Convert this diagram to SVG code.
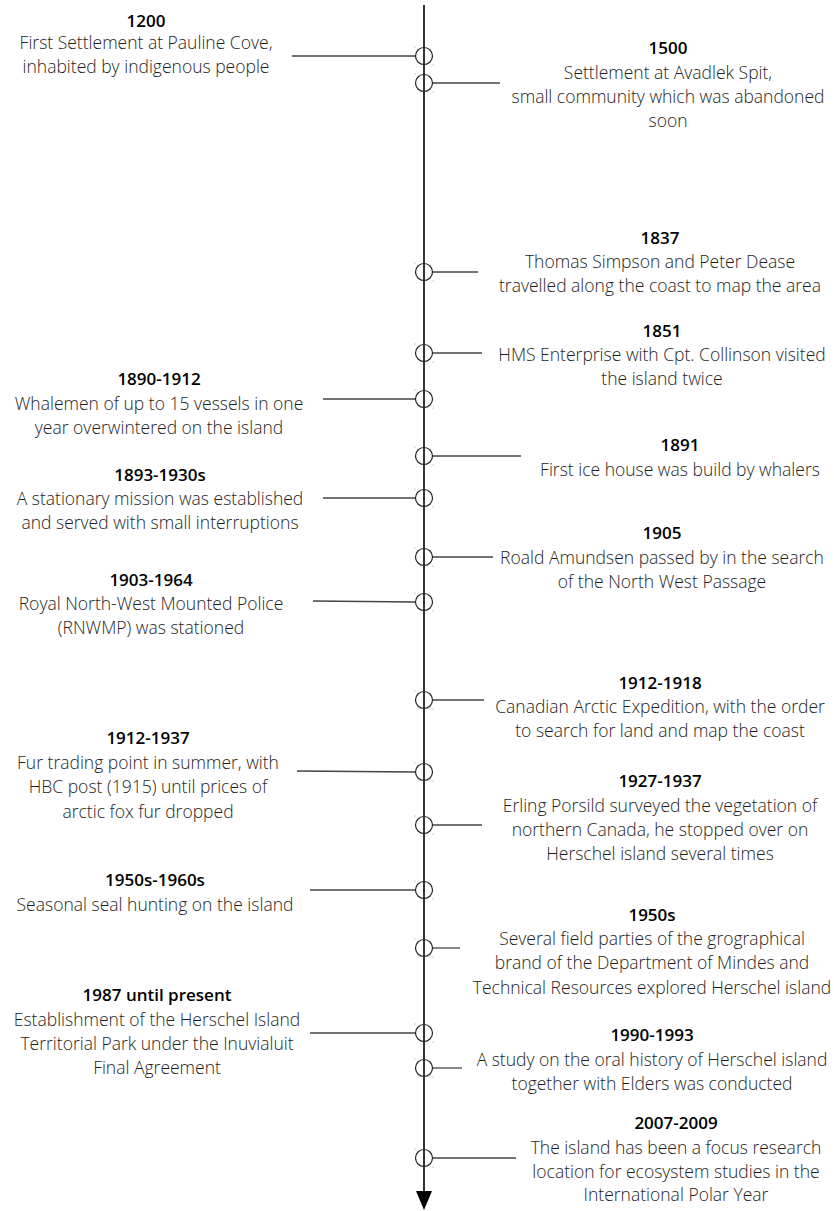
<svg xmlns="http://www.w3.org/2000/svg" width="834" height="1211" viewBox="0 0 834 1211">
  <style>
    text { font-family: "Open Sans", "Noto Sans", "Liberation Sans", sans-serif; text-anchor: middle; }
    .t { font-size: 17px; font-weight: 600; fill: #000; }
    .b { font-size: 17.5px; font-weight: 300; fill: #1e1e1e; }
    .lnk { stroke: #444; stroke-width: 1.3; fill: none; }
    .axis { stroke: #000; stroke-width: 1.6; fill: none; }
  </style>
  <defs>
    <!-- hollow timeline marker with its two tiny corner ticks -->
    <g id="knob">
      <circle cx="0" cy="0" r="8.5" fill="none" stroke="#222" stroke-width="1.2"/>
      <rect x="-9.5" y="-9.5" width="1" height="1" fill="#999"/>
      <rect x="8.5" y="8.5" width="1" height="1" fill="#999"/>
    </g>
  </defs>

  <!-- connectors: timeline axis and leader lines -->
  <g id="connectors">
    <line class="axis" x1="424" y1="5" x2="424" y2="1193"/>
    <polygon points="416,1191 432,1191 424,1210" fill="#000"/>
    <line class="lnk" x1="292" y1="56" x2="415" y2="56"/>
    <line class="lnk" x1="433" y1="83" x2="500" y2="83"/>
    <line class="lnk" x1="433" y1="272" x2="478" y2="272"/>
    <line class="lnk" x1="433" y1="353" x2="482" y2="353"/>
    <line class="lnk" x1="323" y1="399" x2="415" y2="399"/>
    <line class="lnk" x1="433" y1="456" x2="521" y2="456"/>
    <line class="lnk" x1="323" y1="498" x2="415" y2="498"/>
    <line class="lnk" x1="433" y1="557" x2="493" y2="557"/>
    <line class="lnk" x1="313" y1="601" x2="415" y2="602"/>
    <line class="lnk" x1="433" y1="700" x2="484" y2="700"/>
    <line class="lnk" x1="297" y1="771" x2="415" y2="772"/>
    <line class="lnk" x1="433" y1="825" x2="482" y2="825"/>
    <line class="lnk" x1="310" y1="890" x2="415" y2="890"/>
    <line class="lnk" x1="433" y1="948" x2="460" y2="948"/>
    <line class="lnk" x1="310" y1="1033" x2="415" y2="1033"/>
    <line class="lnk" x1="433" y1="1068" x2="462" y2="1068"/>
    <line class="lnk" x1="433" y1="1158" x2="516" y2="1158"/>
  </g>

  <g id="e1200">
    <use href="#knob" transform="translate(424,56)"/>
    <text class="t" x="146" y="27">1200</text>
    <text class="b" x="146" y="49">First Settlement at Pauline Cove,</text>
    <text class="b" x="146" y="73">inhabited by indigenous people</text>
  </g>

  <g id="e1500">
    <use href="#knob" transform="translate(424,83)"/>
    <text class="t" x="668" y="54">1500</text>
    <text class="b" x="668" y="79">Settlement at Avadlek Spit,</text>
    <text class="b" x="668" y="103">small community which was abandoned</text>
    <text class="b" x="668" y="127">soon</text>
  </g>

  <g id="e1837">
    <use href="#knob" transform="translate(424,272)"/>
    <text class="t" x="660" y="244">1837</text>
    <text class="b" x="660" y="268">Thomas Simpson and Peter Dease</text>
    <text class="b" x="660" y="292">travelled along the coast to map the area</text>
  </g>

  <g id="e1851">
    <use href="#knob" transform="translate(424,353)"/>
    <text class="t" x="662" y="337">1851</text>
    <text class="b" x="662" y="361">HMS Enterprise with Cpt. Collinson visited</text>
    <text class="b" x="662" y="385">the island twice</text>
  </g>

  <g id="e1890">
    <use href="#knob" transform="translate(424,399)"/>
    <text class="t" x="159" y="385">1890-1912</text>
    <text class="b" x="159" y="410">Whalemen of up to 15 vessels in one</text>
    <text class="b" x="159" y="434">year overwintered on the island</text>
  </g>

  <g id="e1891">
    <use href="#knob" transform="translate(424,456)"/>
    <text class="t" x="680" y="451">1891</text>
    <text class="b" x="680" y="476">First ice house was build by whalers</text>
  </g>

  <g id="e1893">
    <use href="#knob" transform="translate(424,498)"/>
    <text class="t" x="160" y="481">1893-1930s</text>
    <text class="b" x="160" y="505">A stationary mission was established</text>
    <text class="b" x="160" y="529">and served with small interruptions</text>
  </g>

  <g id="e1905">
    <use href="#knob" transform="translate(424,557)"/>
    <text class="t" x="662" y="539">1905</text>
    <text class="b" x="662" y="564">Roald Amundsen passed by in the search</text>
    <text class="b" x="662" y="588">of the North West Passage</text>
  </g>

  <g id="e1903">
    <use href="#knob" transform="translate(424,602)"/>
    <text class="t" x="151" y="586">1903-1964</text>
    <text class="b" x="151" y="610">Royal North-West Mounted Police</text>
    <text class="b" x="151" y="634">(RNWMP) was stationed</text>
  </g>

  <g id="e1912a">
    <use href="#knob" transform="translate(424,700)"/>
    <text class="t" x="660" y="689">1912-1918</text>
    <text class="b" x="660" y="713">Canadian Arctic Expedition, with the order</text>
    <text class="b" x="660" y="737">to search for land and map the coast</text>
  </g>

  <g id="e1912b">
    <use href="#knob" transform="translate(424,772)"/>
    <text class="t" x="148" y="744">1912-1937</text>
    <text class="b" x="148" y="769">Fur trading point in summer, with</text>
    <text class="b" x="148" y="793">HBC post (1915) until prices of</text>
    <text class="b" x="148" y="818">arctic fox fur dropped</text>
  </g>

  <g id="e1927">
    <use href="#knob" transform="translate(424,825)"/>
    <text class="t" x="660" y="787">1927-1937</text>
    <text class="b" x="660" y="812">Erling Porsild surveyed the vegetation of</text>
    <text class="b" x="660" y="836">northern Canada, he stopped over on</text>
    <text class="b" x="660" y="860">Herschel island several times</text>
  </g>

  <g id="e1950a">
    <use href="#knob" transform="translate(424,890)"/>
    <text class="t" x="155" y="886">1950s-1960s</text>
    <text class="b" x="155" y="911">Seasonal seal hunting on the island</text>
  </g>

  <g id="e1950b">
    <use href="#knob" transform="translate(424,948)"/>
    <text class="t" x="652" y="921">1950s</text>
    <text class="b" x="652" y="945">Several field parties of the grographical</text>
    <text class="b" x="652" y="969">brand of the Department of Mindes and</text>
    <text class="b" x="652" y="994">Technical Resources explored Herschel island</text>
  </g>

  <g id="e1987">
    <use href="#knob" transform="translate(424,1033)"/>
    <text class="t" x="157" y="1001">1987 until present</text>
    <text class="b" x="157" y="1026">Establishment of the Herschel Island</text>
    <text class="b" x="157" y="1050">Territorial Park under the Inuvialuit</text>
    <text class="b" x="157" y="1074">Final Agreement</text>
  </g>

  <g id="e1990">
    <use href="#knob" transform="translate(424,1068)"/>
    <text class="t" x="652" y="1041">1990-1993</text>
    <text class="b" x="652" y="1066">A study on the oral history of Herschel island</text>
    <text class="b" x="652" y="1090">together with Elders was conducted</text>
  </g>

  <g id="e2007">
    <use href="#knob" transform="translate(424,1158)"/>
    <text class="t" x="676" y="1129">2007-2009</text>
    <text class="b" x="676" y="1154">The island has been a focus research</text>
    <text class="b" x="676" y="1178">location for ecosystem studies in the</text>
    <text class="b" x="676" y="1201">International Polar Year</text>
  </g>
</svg>
